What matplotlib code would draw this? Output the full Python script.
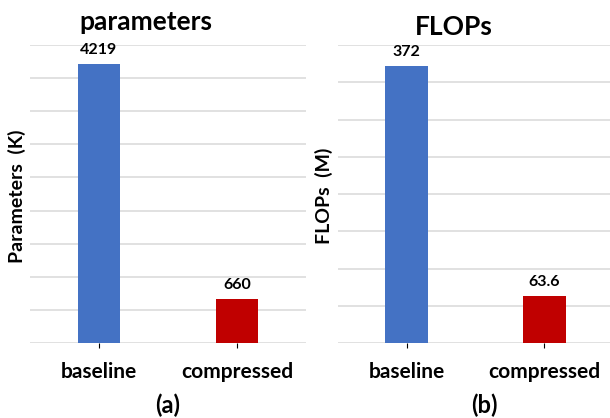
import matplotlib.pyplot as plt

# data
categories = ["baseline", "compressed"]
params_k = [4219, 660]
flops_m = [372, 63.6]
param_labels = ["4219", "660"]
flops_labels = ["372", "63.6"]
bar_colors = ["#4472C4", "#C00000"]

plt.rcParams['font.family'] = ['Lato', 'DejaVu Sans']
W, H = 610, 418

fig = plt.figure(figsize=(W / 100, H / 100), dpi=100)


def panel(left, right, values, labels, ymax, step, ylabel, title, title_x, title_y, ylab_x, tag, tag_x):
    ax = fig.add_axes([left / W, 1 - 343 / H, (right - left) / W, (343 - 45) / H])
    ax.bar(range(len(categories)), values, width=0.31, color=bar_colors, zorder=3)
    ax.set_xlim(-0.5, 1.5)
    ax.set_ylim(0, ymax)
    ax.set_yticks(range(0, ymax + 1, step))
    ax.set_yticklabels([])
    ax.tick_params(axis='y', length=0)
    ax.set_xticks(range(len(categories)))
    ax.set_xticklabels([])
    ax.grid(axis='y', color='#D9D9D9', linewidth=1.1, zorder=0)
    for s in ax.spines.values():
        s.set_visible(False)
    for i, c in enumerate(categories):
        ax.annotate(c, (i, 0), xytext=(0, -29), textcoords='offset pixels',
                    ha='center', va='center', fontsize=15, fontweight='bold')
    for i, (v, t) in enumerate(zip(values, labels)):
        ax.annotate(t, (i, v), xytext=(0, 14), textcoords='offset pixels',
                    ha='center', va='center', fontsize=11.5, fontweight='bold')
    fig.text(title_x / W, 1 - title_y / H, title, ha='center', va='center',
             fontsize=19, fontweight='bold')
    fig.text(ylab_x / W, 1 - 196 / H, ylabel, ha='center', va='center',
             rotation=90, fontsize=14, fontweight='bold')
    fig.text(tag_x / W, 1 - 405 / H, tag, ha='center', va='center',
             fontsize=17, fontweight='bold')
    return ax


panel(30, 306, params_k, param_labels, 4500, 500, "Parameters  (K)",
      "parameters", 146, 22, 17, "(a)", 168)
panel(338, 613, flops_m, flops_labels, 400, 50, "FLOPs  (M)",
      "FLOPs", 454, 27, 324, "(b)", 484)

fig.savefig("out.png", dpi=100)
